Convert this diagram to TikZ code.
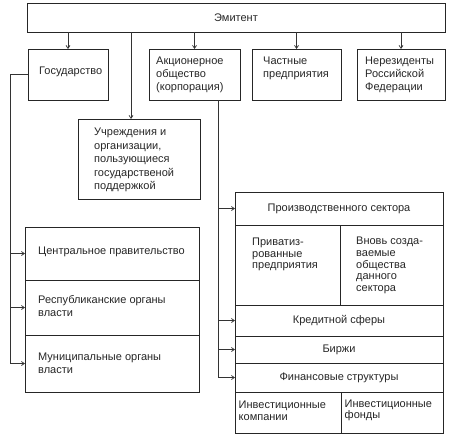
\documentclass[tikz,border=0pt]{standalone}
\usepackage{fontspec}
\setmainfont{Liberation Sans}
\usetikzlibrary{arrows.meta}
\tikzset{
  bx/.style={draw=black!85, line width=0.9pt, inner sep=0pt, outer sep=0pt, minimum width=#1},
  conn/.style={draw=black!80, line width=0.7pt},
  arr/.style={conn, -{Straight Barb[length=3pt,width=4pt]}},
  txt/.style={inner sep=0pt, align=left, anchor=west, font=\fontsize{11}{13}\selectfont, text=black!85},
  tight/.style={txt, font=\fontsize{11}{11.6}\selectfont},
  ctxt/.style={font=\fontsize{11}{13}\selectfont, text=black!85}
}
% \mybox{name}{x1}{y1}{x2}{y2}{text}
\newcommand{\mybox}[6]{%
  \node[bx={(#4-#2)*1pt}, minimum height={(#5-#3)*1pt}, ctxt] (#1) at ({(#2+#4)/2},{(#3+#5)/2}) {#6};}
\begin{document}
\begin{tikzpicture}[x=1pt,y=-1pt]
\useasboundingbox (0,0) rectangle (455,442);
% top
\mybox{emit}{27}{3}{445}{32}{Эмитент}
% second row
\mybox{gos}{28}{49}{108}{100}{}
\mybox{akc}{149}{49}{240}{100}{}
\mybox{chast}{252}{49}{341}{100}{}
\mybox{nerez}{357}{49}{445}{100}{}
\node[txt] (tgos) at (39,72) {Государство};
\node[txt] (takc) at (156,75) {Акционерное\\общество\\(корпорация)};
\node[txt] (tchast) at (263,68.5) {Частные\\предприятия};
\node[txt] (tnerez) at (365,75) {Нерезиденты\\Российской\\Федерации};
% institutions
\mybox{uchr}{78}{119}{200}{199}{}
\node[txt, font=\fontsize{11}{13.4}\selectfont] (tuchr) at (94,160) {Учреждения и\\организации,\\пользующиеся\\государственой\\поддержкой};
% left stack
\mybox{ra}{25}{227}{199}{280}{}
\mybox{rb}{25}{280}{199}{335}{}
\mybox{rc}{25}{335}{199}{392}{}
\node[txt] (tra) at (38,252) {Центральное правительство};
\node[txt] (trb) at (38,306) {Республиканские органы\\власти};
\node[txt] (trc) at (38,363) {Муниципальные органы\\власти};
% right stack
\mybox{prod}{235}{192}{443}{225}{Производственного сектора}
\mybox{priv}{235}{225}{340}{305}{}
\mybox{vnov}{340}{225}{443}{305}{}
\node[tight] (tpriv) at (252,254.5) {Приватиз-\\рованные\\предприятия};
\node[tight] (tvnov) at (356,265.5) {Вновь созда-\\ваемые\\общества\\данного\\сектора};
\mybox{kred}{235}{305}{443}{336}{Кредитной сферы}
\mybox{birzh}{235}{336}{443}{363}{Биржи}
\mybox{fin}{235}{363}{443}{392}{Финансовые структуры}
\mybox{invk}{235}{392}{341}{433}{}
\mybox{invf}{341}{392}{443}{433}{}
\node[tight] (tinvk) at (238.5,410.5) {Инвестиционные\\компании};
\node[tight] (tinvf) at (344.5,410.5) {Инвестиционные\\фонды};
% connectors from emitent
\draw[arr] (emit.south -| gos.north) -- (gos.north);
\draw[arr] (emit.south -| akc.north) -- (akc.north);
\draw[arr] (emit.south -| chast.north) -- (chast.north);
\draw[arr] (emit.south -| nerez.north) -- (nerez.north);
\coordinate (U) at (131,0);
\draw[arr] (emit.south -| U) -- (uchr.north -| U);
% left bus
\coordinate (L) at (10,0);
\draw[arr] (gos.west) -- (gos.west -| L) |- (rc.west);
\draw[arr] (L |- ra.west) -- (ra.west);
\draw[arr] (L |- rb.west) -- (rb.west);
% right bus
\coordinate (R) at (218,0);
\draw[arr] (akc.south -| R) |- (fin.west);
\draw[arr] (R |- prod.west) -- (prod.west);
\draw[arr] (R |- kred.west) -- (kred.west);
\draw[arr] (R |- birzh.west) -- (birzh.west);
\end{tikzpicture}
\end{document}
